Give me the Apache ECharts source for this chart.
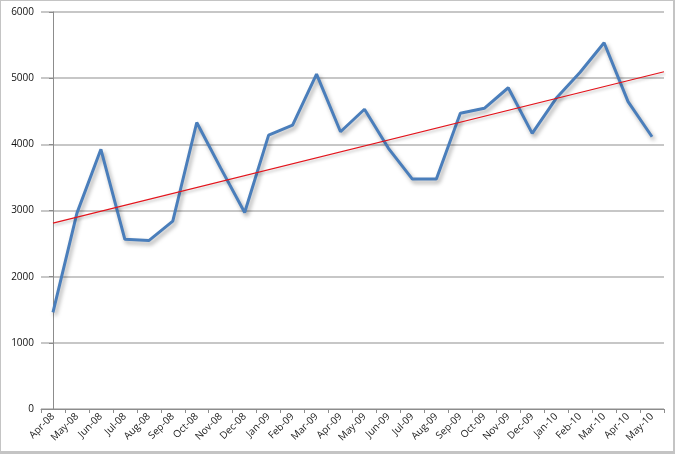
<!DOCTYPE html>
<html><head><meta charset="utf-8">
<script src="https://cdn.jsdelivr.net/npm/echarts@6/dist/echarts.min.js"></script>
<style>
html,body{margin:0;padding:0;background:#fff;}
#wrap{position:absolute;left:0;top:0;width:675px;height:454px;box-sizing:border-box;border-style:solid;border-color:#c4c4c4;border-width:1px 2px 3px 1px;}
#c{position:absolute;left:0;top:0;width:676px;height:460px;}
</style></head>
<body>
<div id="wrap"></div>
<div id="c"></div>
<script>
var categories = ['Apr-08','May-08','Jun-08','Jul-08','Aug-08','Sep-08','Oct-08','Nov-08','Dec-08','Jan-09','Feb-09','Mar-09','Apr-09','May-09','Jun-09','Jul-09','Aug-09','Sep-09','Oct-09','Nov-09','Dec-09','Jan-10','Feb-10','Mar-10','Apr-10','May-10'];
var values = [1460, 2960, 3925, 2565, 2545, 2840, 4330, 3640, 2970, 4140, 4290, 5060, 4190, 4530, 3940, 3475, 3475, 4470, 4545, 4855, 4165, 4695, 5090, 5535, 4645, 4115];
// trend line endpoints: [category position, value]
var trendStart = [0, 2810];
var trendEnd = [25.5, 5097];
var yTicks = [0, 1000, 2000, 3000, 4000, 5000, 6000];

var chart = echarts.init(document.getElementById('c'), null, {renderer:'canvas'});
chart.setOption({
  animation:false,
  backgroundColor:'transparent',
  grid:{left:41, top:12, right:12, bottom:51, containLabel:false},
  xAxis:[{
    type:'category', data:categories, boundaryGap:true,
    axisLine:{lineStyle:{color:'#8c8c8c', width:1}},
    axisTick:{show:true, alignWithLabel:false, length:4, lineStyle:{color:'#8c8c8c'}},
    axisLabel:{rotate:45, interval:0, fontFamily:'Open Sans', fontSize:10, color:'#222', margin:6},
    splitLine:{show:false}
  },{
    type:'value', min:-0.5, max:categories.length-0.5, show:false
  }],
  yAxis:{
    type:'value', min:yTicks[0], max:yTicks[yTicks.length-1], interval:1000,
    axisLine:{show:true, lineStyle:{color:'#8c8c8c'}},
    axisTick:{show:true, length:4, lineStyle:{color:'#8c8c8c'}},
    axisLabel:{fontFamily:'Open Sans', fontSize:10, color:'#111', margin:7, formatter:function(v){return String(v);}},
    splitLine:{show:true, lineStyle:{color:'#b4b4b4', width:1.5}}
  },
  series:[{
    type:'line', data:values, xAxisIndex:0, symbol:'none',
    lineStyle:{color:'#4a7ebb', width:3, shadowColor:'rgba(0,0,0,0.35)', shadowBlur:4, shadowOffsetX:2, shadowOffsetY:3},
    z:3
  },{
    type:'line', data:[trendStart, trendEnd], xAxisIndex:1, symbol:'none',
    lineStyle:{color:'#e3141c', width:1.2, shadowColor:'rgba(0,0,0,0.3)', shadowBlur:3, shadowOffsetX:1, shadowOffsetY:2},
    z:4
  }]
});
</script>
</body></html>
